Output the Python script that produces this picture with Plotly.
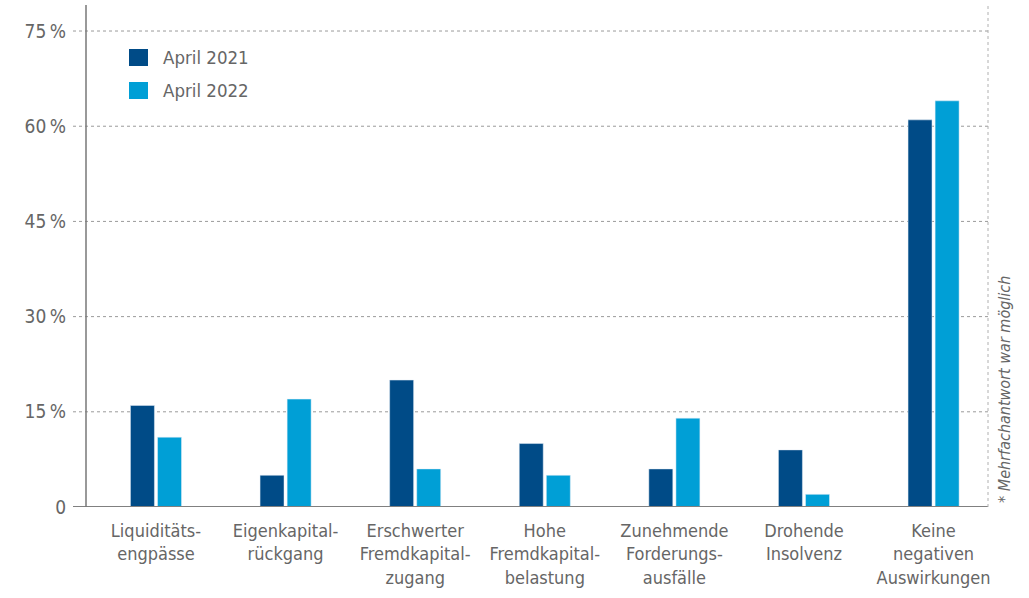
import plotly.graph_objects as go

categories = ["Liquiditäts-<br>engpässe", "Eigenkapital-<br>rückgang", "Erschwerter<br>Fremdkapital-<br>zugang",
              "Hohe<br>Fremdkapital-<br>belastung", "Zunehmende<br>Forderungs-<br>ausfälle",
              "Drohende<br>Insolvenz", "Keine<br>negativen<br>Auswirkungen"]
series_names = ["April 2021", "April 2022"]
series_colors = ["#004b87", "#009fd6"]
values_2021 = [16, 5, 20, 10, 6, 9, 61]
values_2022 = [11, 17, 6, 5, 14, 2, 64]
y_ticks = [0, 15, 30, 45, 60, 75]
y_tick_labels = ["0", "15\u2009%", "30\u2009%", "45\u2009%", "60\u2009%", "75\u2009%"]

FONT = "DejaVu Sans Condensed, Roboto, sans-serif"
GRAY = "#666666"
x_idx = list(range(len(categories)))

fig = go.Figure()
fig.add_trace(go.Bar(x=x_idx, y=values_2021, name=series_names[0], marker_color=series_colors[0],
                     width=0.185, offset=-0.197, showlegend=False))
fig.add_trace(go.Bar(x=x_idx, y=values_2022, name=series_names[1], marker_color=series_colors[1],
                     width=0.185, offset=0.012, showlegend=False))

W, H = 1029, 598
L, R, T, B = 86, 41, 5, 91
pw = W - L - R
ph = H - T - B
ext = 13 / pw

def px_x(x):
    return (x - L) / pw

def px_y(y):
    return (H - B - y) / ph

for v in y_ticks[1:]:
    fig.add_shape(type="line", xref="paper", yref="y", x0=-ext, x1=1, y0=v, y1=v,
                  line=dict(color="#9a9a9a", width=1, dash="dot"), layer="below")
fig.add_shape(type="line", xref="paper", yref="y", x0=-ext, x1=1, y0=0, y1=0,
              line=dict(color="#808080", width=2))
fig.add_shape(type="line", xref="paper", yref="paper", x0=0, x1=0, y0=0, y1=1,
              line=dict(color="#777777", width=1.5))
fig.add_shape(type="line", xref="paper", yref="paper", x0=1, x1=1, y0=0, y1=1,
              line=dict(color="#b0b0b0", width=1, dash="dot"))

# legend
for i, (name, col) in enumerate(zip(series_names, series_colors)):
    y0 = 49 + i * 33
    fig.add_shape(type="rect", xref="paper", yref="paper",
                  x0=px_x(129), x1=px_x(148), y0=px_y(y0 + 17), y1=px_y(y0),
                  fillcolor=col, line=dict(width=0))
    fig.add_annotation(text=name, xref="paper", yref="paper", x=px_x(161), y=px_y(y0 + 8.5),
                       xanchor="left", yanchor="middle", showarrow=False,
                       font=dict(family=FONT, size=18.5, color=GRAY))

fig.add_annotation(text="* Mehrfachantwort war möglich", textangle=-90,
                   xref="paper", yref="paper", x=px_x(1004), y=px_y(390),
                   xanchor="center", yanchor="middle", showarrow=False,
                   font=dict(family=FONT, size=16, color=GRAY, style="italic"))

fig.update_layout(
    width=W, height=H,
    margin=dict(l=L, r=R, t=T, b=B, autoexpand=False),
    paper_bgcolor="white", plot_bgcolor="white",
    barmode="overlay",
    showlegend=False,
    xaxis=dict(range=[-0.54, 6.42], tickmode="array", tickvals=x_idx, ticktext=categories,
               showgrid=False, zeroline=False, showline=False, ticks="", automargin=False,
               ticklabelstandoff=11,
               tickfont=dict(family=FONT, size=18, color=GRAY)),
    yaxis=dict(range=[0, 79.1], tickmode="array", tickvals=y_ticks, ticktext=y_tick_labels,
               showgrid=False, zeroline=False, showline=False, ticks="", ticklabelstandoff=19,
               automargin=False,
               tickfont=dict(family=FONT, size=19, color=GRAY)),
)

fig.write_html("out.html", config={"displayModeBar": False},
               post_script="document.body.style.margin='0';document.body.style.overflow='hidden';")
